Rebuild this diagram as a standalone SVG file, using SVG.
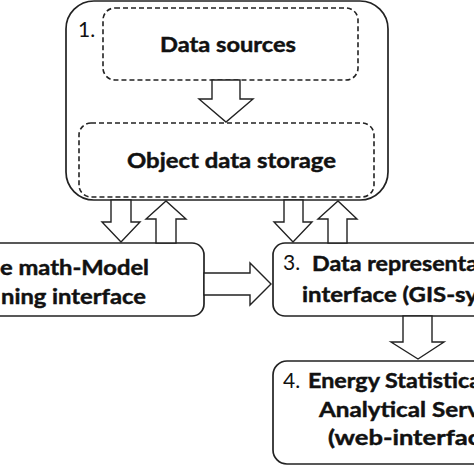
<svg xmlns="http://www.w3.org/2000/svg" width="474" height="474" viewBox="0 0 474 474">
<style>
.box{fill:#fff;stroke:#222;stroke-width:1.7}
.dash{fill:none;stroke:#222;stroke-width:1.6;stroke-dasharray:5 3}
.arrow{fill:#fff;stroke:#222;stroke-width:1.4;stroke-linejoin:miter}
.t{font-family:Lato,"Liberation Sans",sans-serif;font-weight:700;font-size:21px;fill:#111;stroke:#111;stroke-width:0.45}
.n{font-family:Lato,"Liberation Sans",sans-serif;font-weight:400;font-size:21px;fill:#111}
</style>
<rect width="474" height="474" fill="#fff"/>
<g id="node1">
<rect class="box" x="66" y="1" width="322" height="199" rx="28"/>
<text class="n" x="78" y="37">1.</text>
</g>
<g id="node-data-sources">
<rect class="dash" x="103" y="8" width="255" height="72" rx="12"/>
<text class="t" x="160" y="52" textLength="136" lengthAdjust="spacingAndGlyphs">Data sources</text>
</g>
<g id="node-object-storage">
<rect class="dash" x="79" y="123" width="295" height="74" rx="12"/>
<text class="t" x="127" y="168" textLength="209" lengthAdjust="spacingAndGlyphs">Object data storage</text>
</g>
<g id="node2">
<rect class="box" x="-20" y="243" width="224" height="73" rx="12"/>
<text class="t" x="0" y="275" textLength="149" lengthAdjust="spacingAndGlyphs">e math-Model</text>
<text class="t" x="1" y="304" textLength="145" lengthAdjust="spacingAndGlyphs">ning interface</text>
</g>
<g id="node3">
<rect class="box" x="273" y="243" width="220" height="73" rx="12"/>
<text class="n" x="283" y="270">3.</text>
<text class="t" x="312" y="271" textLength="166" lengthAdjust="spacingAndGlyphs">Data representa</text>
<text class="t" x="302" y="302" textLength="176" lengthAdjust="spacingAndGlyphs">interface (GIS-sy</text>
</g>
<g id="node4">
<rect class="box" x="273" y="361" width="220" height="103" rx="14"/>
<text class="n" x="283" y="388">4.</text>
<text class="t" x="308" y="388" textLength="173" lengthAdjust="spacingAndGlyphs">Energy Statistica</text>
<text class="t" x="319" y="417" textLength="161" lengthAdjust="spacingAndGlyphs">Analytical Serv</text>
<text class="t" x="328" y="445" textLength="152" lengthAdjust="spacingAndGlyphs">(web-interfac</text>
</g>
<g id="connectors">
<polygon class="arrow" points="212,80 240,80 240,99 253,99 226,122 199,99 212,99"/>
<polygon class="arrow" points="111,200 131,200 131,222 140,222 121,242 102,222 111,222"/>
<polygon class="arrow" points="156,243 176,243 176,219 186,219 166,201 146,219 156,219"/>
<polygon class="arrow" points="284,200 303,200 303,222 312,222 293,242 274,222 284,222"/>
<polygon class="arrow" points="328,243 347,243 347,219 357,219 338,201 318,219 328,219"/>
<polygon class="arrow" points="204,273 250,273 250,263 271,284 250,305 250,295 204,295"/>
<polygon class="arrow" points="403,316 432,316 432,342 444,342 418,359 391,342 403,342"/>
</g>
</svg>
